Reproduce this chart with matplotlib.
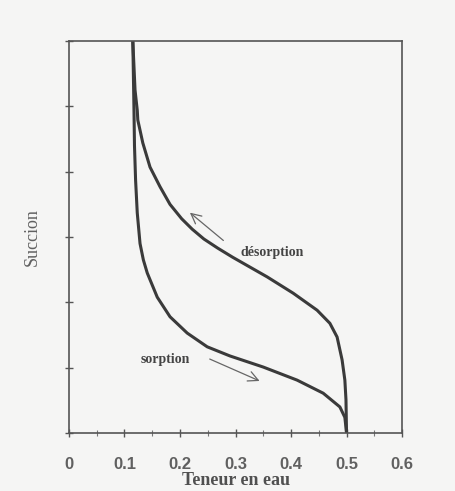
import numpy as np
import matplotlib.pyplot as plt

# water content vs suction
desorption_x = [0.115, 0.119, 0.123, 0.124, 0.133, 0.146, 0.164, 0.182, 0.203,
                0.222, 0.243, 0.268, 0.295, 0.357, 0.404, 0.447, 0.470, 0.483,
                0.492, 0.497, 0.499, 0.5]
desorption_y = [6.0, 5.25, 4.94, 4.79, 4.44, 4.07, 3.77, 3.50, 3.28,
                3.12, 2.97, 2.83, 2.69, 2.39, 2.14, 1.88, 1.68, 1.47,
                1.12, 0.81, 0.51, 0.0]

sorption_x = [0.115, 0.117, 0.118, 0.120, 0.123, 0.128, 0.134, 0.141, 0.159,
              0.182, 0.213, 0.249, 0.290, 0.350, 0.411, 0.458, 0.488, 0.497,
              0.5]
sorption_y = [6.0, 5.0, 4.4, 3.87, 3.37, 2.90, 2.65, 2.45, 2.08,
              1.78, 1.53, 1.32, 1.18, 1.01, 0.81, 0.61, 0.40, 0.24,
              0.0]

xticks = [0, 0.1, 0.2, 0.3, 0.4, 0.5, 0.6]
xticklabels = ['0', '0.1', '0.2', '0.3', '0.4', '0.5', '0.6']

bg = '#f5f5f4'
ink = '#3a3a3a'

fig = plt.figure(figsize=(4.55, 4.91), dpi=100, facecolor=bg)
ax = fig.add_axes([0.1516, 0.118, 0.732, 0.7985], facecolor=bg)

ax.plot(desorption_x, desorption_y, color=ink, lw=2.2,
        solid_joinstyle='round', solid_capstyle='butt')
ax.plot(sorption_x, sorption_y, color=ink, lw=2.2,
        solid_joinstyle='round', solid_capstyle='butt')

ax.set_xlim(0, 0.6)
ax.set_ylim(0, 6)
ax.set_xticks(xticks)
ax.set_xticklabels(xticklabels)
ax.set_xticks(np.arange(0.05, 0.6, 0.1), minor=True)
ax.set_yticks(range(7))
ax.set_yticklabels([])

for s in ax.spines.values():
    s.set_color('#555555')
    s.set_linewidth(1.2)

ax.tick_params(axis='x', which='major', direction='inout', length=6,
               width=1.0, color='#555555', pad=14, labelsize=12,
               labelcolor='#606060')
ax.tick_params(axis='x', which='minor', direction='inout', length=4,
               width=0.8, color='#777777')
ax.tick_params(axis='y', direction='inout', length=6, width=1.0,
               color='#555555')
for lbl in ax.get_xticklabels():
    lbl.set_fontfamily('Liberation Sans')
    lbl.set_fontweight('bold')

ax.set_xlabel('Teneur en eau', family='Liberation Serif', fontweight='bold',
              fontsize=13, color='#505050', labelpad=0)
ax.set_ylabel('Succion', family='Liberation Serif', fontsize=13,
              color='#606060', labelpad=14)

ax.text(0.366, 2.76, 'désorption', family='Liberation Serif', fontsize=10,
        fontweight='bold', color='#444444', ha='center', va='center')
ax.text(0.173, 1.12, 'sorption', family='Liberation Serif', fontsize=10,
        fontweight='bold', color='#444444', ha='center', va='center')

ax.annotate('', xy=(0.214, 3.40), xytext=(0.282, 2.92),
            arrowprops=dict(arrowstyle='->', color='#666666', lw=0.9,
                            mutation_scale=18))
ax.annotate('', xy=(0.348, 0.78), xytext=(0.249, 1.15),
            arrowprops=dict(arrowstyle='->', color='#666666', lw=0.9,
                            mutation_scale=18))

fig.savefig('out.png', dpi=100, facecolor=bg)
